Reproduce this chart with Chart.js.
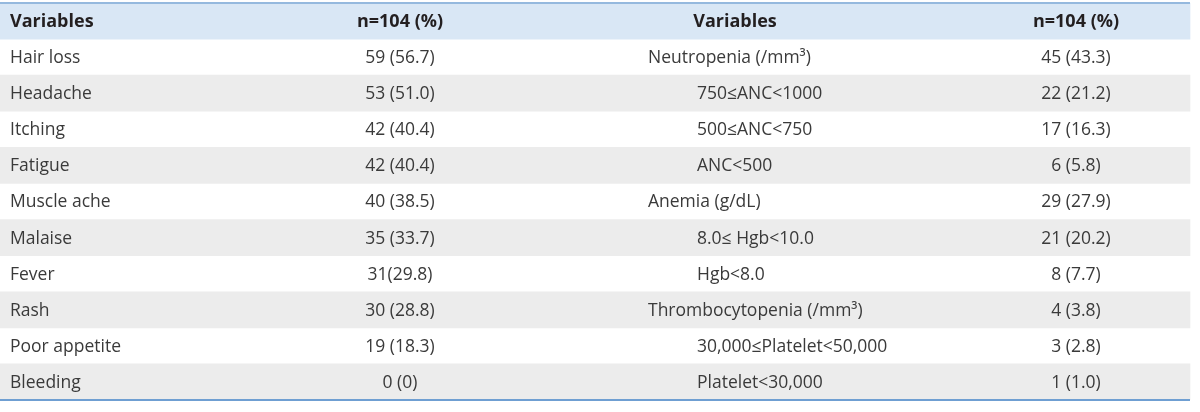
<!DOCTYPE html>
<html>
<head>
<meta charset="utf-8">
<script src="https://cdn.jsdelivr.net/npm/chart.js@4/dist/chart.umd.min.js"></script>
<style>
  html, body { margin: 0; padding: 0; background: #ffffff; }
  #wrap { position: relative; width: 1200px; height: 412px; }
</style>
</head>
<body>
<div id="wrap"><canvas id="tableChart"></canvas></div>
<script>
// Datos de la tabla
const headers = ['Variables', 'n=104 (%)', 'Variables', 'n=104 (%)'];

const leftVariables = ['Hair loss', 'Headache', 'Itching', 'Fatigue', 'Muscle ache',
    'Malaise', 'Fever', 'Rash', 'Poor appetite', 'Bleeding'];
const leftValues = ['59 (56.7)', '53 (51.0)', '42 (40.4)', '42 (40.4)', '40 (38.5)',
    '35 (33.7)', '31(29.8)', '30 (28.8)', '19 (18.3)', '0 (0)'];

const rightVariables = ['Neutropenia (/mm³)', '750≤ANC<1000', '500≤ANC<750', 'ANC<500',
    'Anemia (g/dL)', '8.0≤ Hgb<10.0', 'Hgb<8.0', 'Thrombocytopenia (/mm³)',
    '30,000≤Platelet<50,000', 'Platelet<30,000'];
const rightIsSub = [false, true, true, true, false, true, true, false, true, true];
const rightValues = ['45 (43.3)', '22 (21.2)', '17 (16.3)', '6 (5.8)', '29 (27.9)',
    '21 (20.2)', '8 (7.7)', '4 (3.8)', '3 (2.8)', '1 (1.0)'];

// Filas: cabecera + filas de datos
const rowLabels = ['header', ...leftVariables.map((_, i) => 'row' + i)];

// Posiciones de columnas (en unidades del eje x, 0..1200)
const COL = { c1: 10, c2: 400, c3h: 735, c3: 648, c3sub: 697, c4: 1076, right: 1190 };

const FONT = '"Open Sans", "Noto Sans", sans-serif';
const HEADER_BG = '#d9e7f5';
const STRIPE_BG = '#ececec';

// Fondo de filas: cabecera azul, filas pares grises
const rowBars = rowLabels.map((_, i) => (i === 0 || i % 2 === 0) ? [0, COL.right] : null);
const rowColors = rowLabels.map((_, i) => i === 0 ? HEADER_BG : STRIPE_BG);

const tablePlugin = {
    id: 'tableText',
    afterDatasetsDraw(chart) {
        const ctx = chart.ctx;
        const x = chart.scales.x;
        const y = chart.scales.y;
        const half = (y.getPixelForValue(1) - y.getPixelForValue(0)) / 2;

        ctx.save();
        // Líneas superior e inferior
        const top = y.getPixelForValue(0) - half;
        const bottom = y.getPixelForValue(rowLabels.length - 1) + half;
        ctx.fillStyle = '#95b9de';
        ctx.fillRect(x.getPixelForValue(0), top - 1, x.getPixelForValue(COL.right), 2);
        ctx.fillStyle = '#6f9fd2';
        ctx.fillRect(x.getPixelForValue(0), bottom - 1, x.getPixelForValue(COL.right), 2);

        ctx.textBaseline = 'middle';

        // Cabecera
        const hy = y.getPixelForValue(0) + 1;
        ctx.font = 'bold 18px ' + FONT;
        ctx.fillStyle = '#231f20';
        ctx.textAlign = 'left';
        ctx.fillText(headers[0], x.getPixelForValue(COL.c1), hy);
        ctx.textAlign = 'center';
        ctx.fillText(headers[1], x.getPixelForValue(COL.c2), hy);
        ctx.fillText(headers[2], x.getPixelForValue(COL.c3h), hy);
        ctx.fillText(headers[3], x.getPixelForValue(COL.c4), hy);

        // Filas de datos
        ctx.font = '17.5px ' + FONT;
        ctx.fillStyle = '#3a3a3a';
        leftVariables.forEach((name, i) => {
            const ry = y.getPixelForValue(i + 1) + 1;
            ctx.textAlign = 'left';
            ctx.fillText(name, x.getPixelForValue(COL.c1), ry);
            ctx.fillText(rightVariables[i],
                x.getPixelForValue(rightIsSub[i] ? COL.c3sub : COL.c3), ry);
            ctx.textAlign = 'center';
            ctx.fillText(leftValues[i], x.getPixelForValue(COL.c2), ry);
            ctx.fillText(rightValues[i], x.getPixelForValue(COL.c4), ry);
        });
        ctx.restore();
    }
};

new Chart(document.getElementById('tableChart').getContext('2d'), {
    type: 'bar',
    data: {
        labels: rowLabels,
        datasets: [{
            data: rowBars,
            backgroundColor: rowColors,
            borderWidth: 0,
            barPercentage: 1,
            categoryPercentage: 1
        }]
    },
    options: {
        indexAxis: 'y',
        responsive: true,
        maintainAspectRatio: false,
        animation: false,
        layout: { padding: { top: 3, bottom: 12, left: 0, right: 0 } },
        scales: {
            x: { type: 'linear', min: 0, max: 1200, display: false },
            y: { type: 'category', display: false }
        },
        plugins: {
            legend: { display: false },
            tooltip: { enabled: false }
        }
    },
    plugins: [tablePlugin]
});
</script>
</body>
</html>
